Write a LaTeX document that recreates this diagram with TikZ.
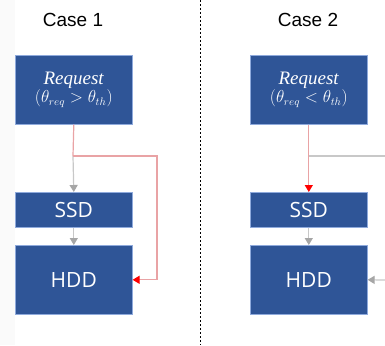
\documentclass[tikz,border=0pt]{standalone}
\usepackage{fontspec}
\setmainfont{Liberation Sans}
\newfontfamily\boxfont{Open Sans}
\newfontfamily\reqfont{Liberation Serif}
\usetikzlibrary{arrows.meta}
\definecolor{boxblue}{HTML}{2F5597}
\definecolor{boxedge}{HTML}{8FAADC}
\definecolor{softred}{HTML}{E9A3A5}
\definecolor{tipred}{HTML}{FF0000}
\definecolor{softgray}{HTML}{C8C8C8}
\definecolor{tipgray}{HTML}{A6A6A6}
\tikzset{
  blockbox/.style={draw=boxedge, line width=0.6pt, fill=boxblue, text=white,
    minimum width=117pt, inner sep=0pt, anchor=north west},
  reqbox/.style={blockbox, minimum height=69pt, align=center},
  ssdbox/.style={blockbox, minimum height=35pt, font=\boxfont\fontsize{21}{24}\selectfont},
  hddbox/.style={blockbox, minimum height=69pt, font=\boxfont\fontsize{21}{24}\selectfont},
  casetitle/.style={font=\fontsize{19}{22}\selectfont, text=black},
  redlink/.style={draw=softred, line width=1.2pt},
  redarrow/.style={redlink, -{Triangle[width=8pt,length=7pt,color=tipred,fill=tipred]}},
  graylink/.style={draw=softgray, line width=1.2pt},
  grayarrow/.style={graylink, -{Triangle[width=8pt,length=7pt,color=tipgray,fill=tipgray]}},
}
\begin{document}
\begin{tikzpicture}[x=1pt, y=-1pt]
  \useasboundingbox (0,0) rectangle (385,345);
  \fill[white] (0,0) rectangle (385,345);
  % faint margin strip on the left
  \fill[black!2] (0,0) rectangle (15,345);
  % dotted divider between the two cases
  \draw[black, line width=1.6pt, dash pattern=on 2pt off 2pt] (200.5,0) -- (200.5,345);

  % ---- Case 1 ----
  \node[casetitle] (t1) at (73,20) {Case 1};
  \node[reqbox] (req1) at (15,55)
    {\reqfont\fontsize{19}{21}\selectfont\textit{Request}\\[0pt]
     \fontsize{16}{18}\selectfont$(\theta_{req} > \theta_{th})$};
  \node[ssdbox] (ssd1) at (15,192) {SSD};
  \node[hddbox] (hdd1) at (15,245) {HDD};
  \coordinate (j1) at (73,156);
  \coordinate (c1) at (157,156);
  \draw[redlink] (req1.south) -- (j1);
  \draw[grayarrow] (j1) -- (ssd1.north);
  \draw[grayarrow] (ssd1.south) -- (hdd1.north);
  \draw[redarrow] (j1) -- (c1) |- (hdd1.east);

  % ---- Case 2 ----
  \node[casetitle] (t2) at (308,20) {Case 2};
  \node[reqbox] (req2) at (250,55)
    {\reqfont\fontsize{19}{21}\selectfont\textit{Request}\\[0pt]
     \fontsize{16}{18}\selectfont$(\theta_{req} < \theta_{th})$};
  \node[ssdbox] (ssd2) at (250,192) {SSD};
  \node[hddbox] (hdd2) at (250,245) {HDD};
  \coordinate (j2) at (req2.south |- j1);
  \coordinate (e2) at (385,156);
  \coordinate (e3) at (385,280);
  \draw[graylink] (j2) -- (e2);
  \draw[redarrow] (req2.south) -- (ssd2.north);
  \draw[grayarrow] (ssd2.south) -- (hdd2.north);
  \draw[grayarrow] (e3) -- (hdd2.east);
\end{tikzpicture}
\end{document}
